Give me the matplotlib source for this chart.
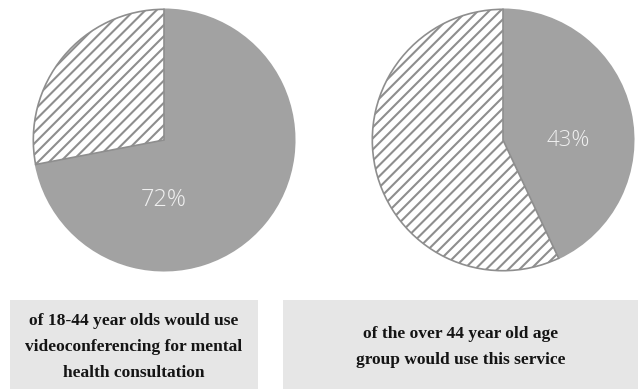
"""
Share of age groups that would use videoconferencing for mental health consultation.
"""
import matplotlib.pyplot as plt
from matplotlib.patches import Rectangle

W, H = 638, 389

# data
shares = [72, 43]
captions = ['of 18-44 year olds would use\nvideoconferencing for mental\nhealth consultation',
            'of the over 44 year old age\ngroup would use this service']
label_pos = [(0.0, -0.46), (0.5, 0.0)]
label_size = [17, 16]

gray = '#a2a2a2'
edge = '#8e8e8e'
box = '#e6e6e6'

plt.rcParams['hatch.linewidth'] = 1.5
plt.rcParams['hatch.color'] = edge

fig = plt.figure(figsize=(W / 100, H / 100), dpi=100)
fig.patch.set_facecolor('white')

pie_centers = [(164, 140), (503, 140)]
r = 132
boxes = [(10, 300, 248, 89), (283, 300, 355, 89)]

for share, caption, lp, fs, (cx, cy), (bx, by, bw, bh) in zip(shares, captions, label_pos, label_size,
                                                            pie_centers, boxes):
    ax = fig.add_axes([(cx - r) / W, (H - cy - r) / H, 2 * r / W, 2 * r / H])
    wedges, _ = ax.pie([share, 100 - share], startangle=90, counterclock=False,
                       colors=[gray, 'white'], radius=1,
                       wedgeprops=dict(edgecolor=edge, linewidth=1.2))
    wedges[1].set_hatch('///')
    wedges[0].set_edgecolor(gray)
    ax.text(lp[0], lp[1], f'{share}%', ha='center', va='center', color='#f0f0f0',
            fontsize=fs, family='Open Sans', fontweight='light')
    ax.set_xlim(-1.01, 1.01)
    ax.set_ylim(-1.01, 1.01)
    ax.set_aspect('equal')
    ax.axis('off')

    # caption box
    fig.patches.append(Rectangle((bx / W, (H - by - bh) / H), bw / W, bh / H,
                                 transform=fig.transFigure, facecolor=box, edgecolor='none'))
    fig.text((bx + bw / 2) / W, (H - 347) / H, caption, ha='center', va='center',
             fontsize=12.5, family='Liberation Serif', fontweight='bold', color='#141414',
             linespacing=1.85)

plt.savefig('out.png', dpi=100)
